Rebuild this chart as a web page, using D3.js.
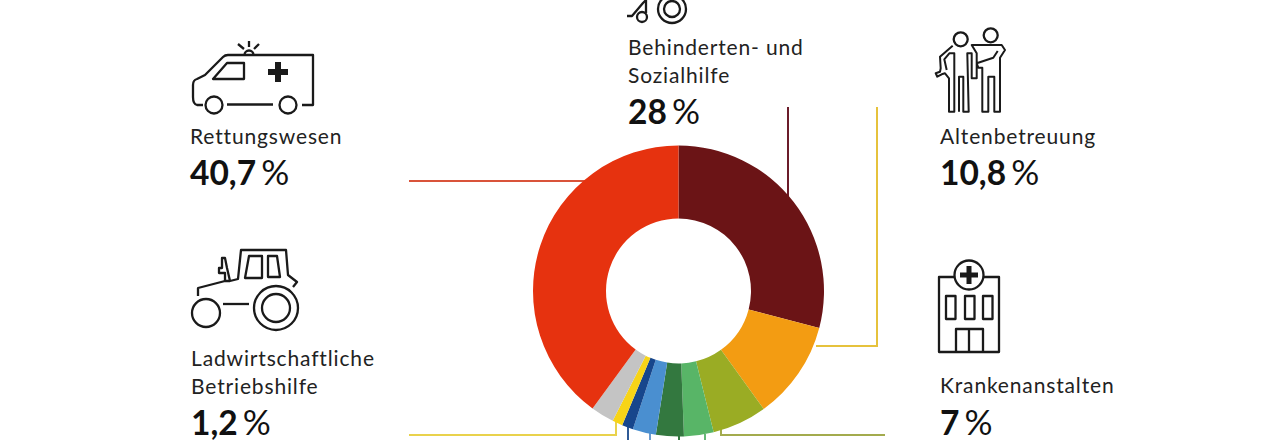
<!DOCTYPE html>
<html><head><meta charset="utf-8">
<script src="https://cdnjs.cloudflare.com/ajax/libs/d3/7.8.5/d3.min.js"></script>
<style>html,body{margin:0;padding:0;background:#fff}svg{display:block}
.n{font:400 21px Lato;letter-spacing:.85px;fill:#222}.v{font:700 33.5px Lato;fill:#111}.p{font-weight:400;font-size:35px}</style></head><body>
<svg id="c" width="1280" height="440"></svg>
<script>
const sliceShares=[29.2,11,6.1,3.3,3.1,2.6,1.25,1.15,2.6,40.1];
const sliceColors=["#6b1416","#f39c12","#9aac24","#58b567","#33783f","#4a8fd0","#17468c","#f7d417","#c4c4c4","#e6320f"];
const names=[["Rettungswesen"],["Ladwirtschaftliche","Betriebshilfe"],["Behinderten- und","Sozialhilfe"],["Altenbetreuung"],["Krankenanstalten"]];
const percents=["40,7","1,2","28","10,8","7"];
const labelX=[190,191,628,940,940];
const labelY=[144,366,55,144,393];
const valueY=[185,435,124,185,435];
const svg=d3.select("#c");
const cx=678.5,cy=291;
// leaders
const leaders=[
 ["#d9533a",[[409,181],[586,181]]],
 ["#6b1c2a",[[788,107],[788,198]]],
 ["#e6c23c",[[877,107],[877,346],[816,346]]],
 ["#e9d24c",[[409,435],[616,435],[616,420]]],
 ["#a3ab4e",[[721,425],[721,435],[885,435]]],
 ["#2f5a96",[[628,425],[628,440]]],
 ["#6b9bd0",[[650,432],[650,440]]],
 ["#33783f",[[679,436],[679,440]]],
 ["#66b877",[[705,434],[705,440]]]];
const ln=d3.line();
svg.selectAll("path.l").data(leaders).join("path").attr("class","l").attr("fill","none")
 .attr("stroke",d=>d[0]).attr("stroke-width",2).attr("d",d=>ln(d[1]));
// donut
const pie=d3.pie().sort(null)(sliceShares);
const arc=d3.arc().innerRadius(72.5).outerRadius(145.5);
svg.append("g").attr("transform",`translate(${cx},${cy})`).selectAll("path").data(pie).join("path")
 .attr("d",arc).attr("fill",(d,i)=>sliceColors[i]);
// text
names.forEach((lines,i)=>{
 lines.forEach((t,j)=>svg.append("text").attr("class","n").attr("x",labelX[i]).attr("y",labelY[i]+j*28).text(t));
 const v=svg.append("text").attr("class","v").attr("x",labelX[i]).attr("y",valueY[i]);
 v.append("tspan").text(percents[i]);
 v.append("tspan").attr("class","p").attr("dx",5).text("%");
});
// icons
const ic=svg.append("g").attr("fill","none").attr("stroke","#1a1a1a").attr("stroke-width",2.3).attr("stroke-linejoin","round");
const P=(d,w)=>{const p=ic.append("path").attr("d",d);if(w)p.attr("stroke-width",w);return p};
const C=(x,y,r,f)=>{const c=ic.append("circle").attr("cx",x).attr("cy",y).attr("r",r);if(f)c.attr("fill",f);return c};
// ambulance
P("M203,105H197Q193,104 193,97V85Q193,80 197,79L205,75L223,57Q225,55 228,55H313V105H302");
C(214,105,8.5);C(288,105,8.5);P("M227,104.5H273");P("M213,79L227,63H244V79Z");
P("M278,62V82M268,72H288",6).attr("stroke-linejoin","miter");
P("M244.5,55A4.5,4.5 0 0 1 253.5,55");P("M249,41V47M238,44L244,49M259,44L254,49");
// tractor
C(206,313,14);C(276,308,22);C(276,308,14);P("M223,304H249");
P("M198,296V288L225,281H230L238,279L241,250H286L288,275L297,282L293,287");
P("M245,278L249,256H262V278ZM268,256H277L280,277H268Z");
P("M225,281V273H219V268H222V258H225L227,268L230,281");
// carers
C(960.7,39.3,7);C(990.7,35.3,7);
P("M952.7,45.7L940,56.7L940.7,68.3L940,71.7L935.7,73.3L937.3,76.7L941.7,74.3L945,73.3L949,78.3V111.7H954.3V53.3H949.3L944.3,59.3L946.7,70M959,111.7V76.7H963.3V111.7H968.7L967.3,53.3H971.7V78.3H976.7V53.3L971.7,45H1001.7L1005,50L1000,57.7V111.7H994.3V76.7H988.3V111.7H982.3V67.7H978.3L976.7,63.3L993.3,57.7L997.7,51",2);
// hospital
ic.append("rect").attr("x",939).attr("y",277).attr("width",60).attr("height",75);
C(969,275,14.5,"#fff");P("M969,266V284M960,275H978",5);
[946,965,983].forEach(x=>ic.append("rect").attr("x",x).attr("y",296).attr("width",9.5).attr("height",23));
P("M956,352V329H983V352M969,329V352");
// wheelchair (cut at the top)
C(672,9,14);C(672,9,8);C(642,17,5);P("M627,16H632L643,3L646,0V13");
</script></body></html>
